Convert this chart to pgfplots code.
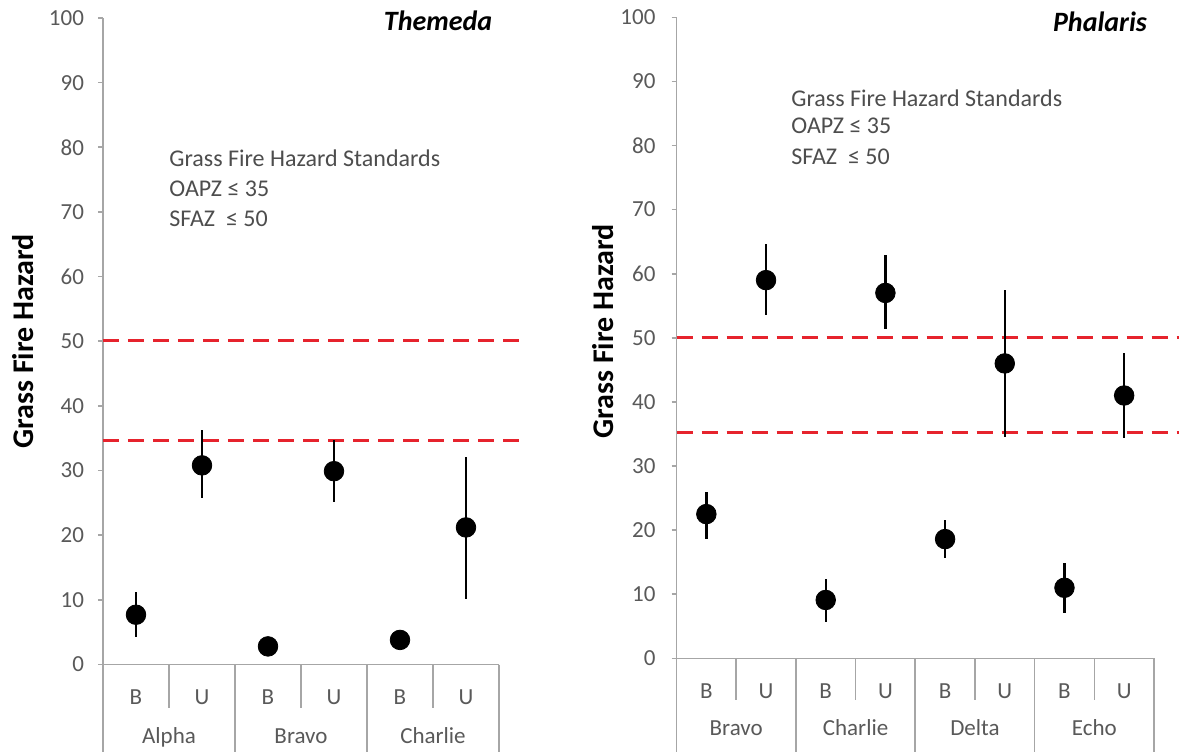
\documentclass[border=0pt]{standalone}
\usepackage{pgfplots}
\pgfplotsset{compat=1.18}
\usepackage{pgfplotstable}
\usepackage{fontspec}
\setmainfont{Carlito}
\definecolor{axgray}{HTML}{A6A6A6}
\definecolor{tickgray}{HTML}{595959}
\definecolor{txtgray}{HTML}{4D4D4D}
\definecolor{refred}{RGB}{230,35,45}

\pgfplotstableread{
x  y     ep    em
0  7.7   3.5   3.4
1  30.8  5.5   5.1
2  2.8   0.4   0.4
3  29.9  4.8   4.8
4  3.8   0.4   0.4
5  21.2  10.9  11.1
}\themeda

\pgfplotstableread{
x  y     ep    em
0  22.5  3.5   3.9
1  59.0  5.6   5.5
2  9.1   3.2   3.4
3  57.0  5.9   5.7
4  18.6  2.9   3.0
5  46.0  11.4  11.4
6  11.0  3.8   3.9
7  41.0  6.7   6.6
}\phalaris

\pgfplotsset{
  panel/.style={
    scale only axis, clip=false, enlargelimits=false,
    ymin=0, ymax=100, ytick={0,10,...,100},
    axis x line*=bottom, axis y line*=left,
    axis line style={draw=axgray, line width=0.8pt, -},
    ytick style={draw=axgray, line width=0.8pt},
    major tick length=2.5pt, tick align=outside,
    xtick style={draw=none},
    ticklabel style={font=\fontsize{11.5}{13}\selectfont, text=tickgray},
    /pgf/number format/assume math mode=true,
    xticklabel style={anchor=base, yshift=-17.6pt},
    ylabel={Grass Fire Hazard},
    ylabel style={font=\bfseries\fontsize{15}{18}\selectfont, anchor=center, text=black},
  },
  dashref/.style={refred, line width=1.6pt, dash pattern=on 8pt off 4.5pt, forget plot},
  pts/.style={only marks, mark=*, mark size=4.9pt, black,
    error bars/.cd, y dir=both, y explicit, error mark=none,
    error bar style={line width=1.2pt, black}},
}
\tikzset{
  sep/.style={draw=axgray, line width=0.8pt},
  grp/.style={font=\fontsize{11.5}{13}\selectfont, text=tickgray, anchor=base},
  ann/.style={font=\fontsize{12}{14}\selectfont, text=txtgray, anchor=base west, inner sep=0pt},
}

\begin{document}
\begin{tikzpicture}
% ---------------- Themeda ----------------
\begin{axis}[panel,
  at={(51.5pt,43.25pt)}, anchor=south west,
  width=198pt, height=323.25pt,
  xmin=-0.5, xmax=5.5,
  xtick={0,...,5}, xticklabels={B,U,B,U,B,U},
  ylabel style={at={(axis description cs:-0.202,0.5)}},
  yticklabel style={xshift=-3.5pt},
]
\addplot[dashref] coordinates {(-0.5,50.1) (5.91,50.1)};
\addplot[dashref] coordinates {(-0.5,34.6) (5.91,34.6)};
\addplot[pts] table[x=x, y=y, y error plus=ep, y error minus=em] {\themeda};
\draw[sep] (axis cs:-0.5,0) -- ++(0pt,-60pt);
\draw[sep] (axis cs:1.5,0) -- ++(0pt,-60pt);
\draw[sep] (axis cs:3.5,0) -- ++(0pt,-60pt);
\draw[sep] (axis cs:5.5,0) -- ++(0pt,-60pt);
\draw[sep] (axis cs:0.5,0) -- ++(0pt,-21.75pt);
\draw[sep] (axis cs:2.5,0) -- ++(0pt,-21.75pt);
\draw[sep] (axis cs:4.5,0) -- ++(0pt,-21.75pt);
\node[grp, yshift=-39.5pt] at (axis cs:0.5,0) {Alpha};
\node[grp, yshift=-39.5pt] at (axis cs:2.5,0) {Bravo};
\node[grp, yshift=-39.5pt] at (axis cs:4.5,0) {Charlie};
\node[font=\bfseries\itshape\fontsize{14}{16}\selectfont, anchor=center] at (axis description cs:0.846,0.995) {Themeda};
\node[ann] at (axis cs:0.5,77.0) {Grass Fire Hazard Standards};
\node[ann] at (axis cs:0.5,72.4) {OAPZ ≤ 35};
\node[ann] at (axis cs:0.5,67.7) {SFAZ \ ≤ 50};
\end{axis}
% ---------------- Phalaris ----------------
\begin{axis}[panel,
  at={(338.25pt,46.35pt)}, anchor=south west,
  width=238.75pt, height=320.5pt,
  xmin=-0.5, xmax=7.5,
  xtick={0,...,7}, xticklabels={B,U,B,U,B,U,B,U},
  ylabel style={at={(axis description cs:-0.154,0.51)}},
  yticklabel style={xshift=-4.5pt},
]
\addplot[dashref] coordinates {(-0.5,50.0) (8.0,50.0)};
\addplot[dashref] coordinates {(-0.5,35.2) (8.0,35.2)};
\addplot[pts] table[x=x, y=y, y error plus=ep, y error minus=em] {\phalaris};
\draw[sep] (axis cs:-0.5,0) -- ++(0pt,-60pt);
\draw[sep] (axis cs:1.5,0) -- ++(0pt,-60pt);
\draw[sep] (axis cs:3.5,0) -- ++(0pt,-60pt);
\draw[sep] (axis cs:5.5,0) -- ++(0pt,-60pt);
\draw[sep] (axis cs:7.5,0) -- ++(0pt,-60pt);
\draw[sep] (axis cs:0.5,0) -- ++(0pt,-21pt);
\draw[sep] (axis cs:2.5,0) -- ++(0pt,-21pt);
\draw[sep] (axis cs:4.5,0) -- ++(0pt,-21pt);
\draw[sep] (axis cs:6.5,0) -- ++(0pt,-21pt);
\node[grp, yshift=-38.8pt] at (axis cs:0.5,0) {Bravo};
\node[grp, yshift=-38.8pt] at (axis cs:2.5,0) {Charlie};
\node[grp, yshift=-38.8pt] at (axis cs:4.5,0) {Delta};
\node[grp, yshift=-38.8pt] at (axis cs:6.5,0) {Echo};
\node[font=\bfseries\itshape\fontsize{14}{16}\selectfont, anchor=center] at (axis description cs:0.887,0.993) {Phalaris};
\node[ann] at (axis cs:1.418,86.05) {Grass Fire Hazard Standards};
\node[ann] at (axis cs:1.418,81.8) {OAPZ ≤ 35};
\node[ann] at (axis cs:1.418,77.1) {SFAZ \ ≤ 50};
\end{axis}
\pgfresetboundingbox
\path[use as bounding box] (0,0) rectangle (589.5pt,375.5pt);
\end{tikzpicture}
\end{document}
